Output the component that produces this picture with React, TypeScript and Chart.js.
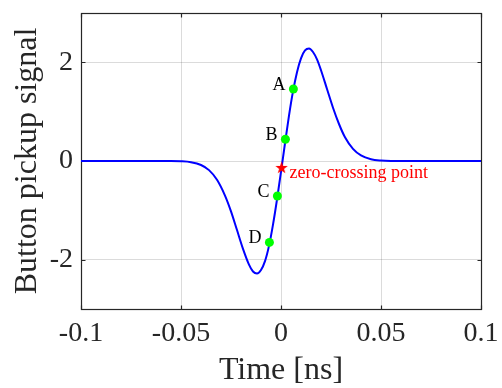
import React, { useEffect, useRef } from 'react';
import { Chart, registerables } from 'chart.js';

Chart.register(...registerables);

// ---- data ----
const timeNs = [
  -0.1, -0.08, -0.065, -0.055, -0.05, -0.045, -0.04, -0.036, -0.032, -0.028,
  -0.025, -0.022, -0.019, -0.016, -0.014, -0.012, -0.01, -0.008, -0.006, -0.004,
  -0.002, 0, 0.002, 0.004, 0.006, 0.008, 0.01, 0.012, 0.014, 0.016,
  0.018, 0.02, 0.023, 0.026, 0.029, 0.032, 0.036, 0.04, 0.045, 0.05,
  0.055, 0.065, 0.08, 0.1,
];
const signal = [
  0, 0, 0, -0.001, -0.006, -0.025, -0.081, -0.185, -0.38, -0.7,
  -1.02, -1.4, -1.78, -2.1, -2.24, -2.28, -2.21, -2.03, -1.72, -1.29,
  -0.78, -0.22, 0.36, 0.92, 1.41, 1.8, 2.08, 2.24, 2.28, 2.21,
  2.06, 1.84, 1.46, 1.08, 0.75, 0.48, 0.245, 0.112, 0.036, 0.01,
  0.002, 0, 0, 0,
];
const markerLabels = ['A', 'B', 'C', 'D'];
const markerX = [0.0062, 0.0022, -0.0018, -0.0058];
const markerY = [1.46, 0.44, -0.71, -1.65];
const zeroCrossX = [0.0003];
const zeroCrossY = [-0.13];
const zeroCrossText = 'zero-crossing point';
const xTicks = [-0.1, -0.05, 0, 0.05, 0.1];
const yTicks = [-2, 0, 2];
const xTitle = 'Time [ns]';
const yTitle = 'Button pickup signal';

const SERIF = "'Liberation Serif', 'Times New Roman', serif";
const AXIS_COLOR = '#262626';

function makeStar(size: number, color: string): HTMLCanvasElement {
  const c = document.createElement('canvas');
  c.width = size;
  c.height = size;
  const g = c.getContext('2d')!;
  const cx = size / 2;
  const cy = size / 2;
  const outer = size / 2;
  const inner = outer * 0.4;
  g.beginPath();
  for (let i = 0; i < 10; i++) {
    const r = i % 2 === 0 ? outer : inner;
    const a = -Math.PI / 2 + (i * Math.PI) / 5;
    const px = cx + r * Math.cos(a);
    const py = cy + r * Math.sin(a) + 0.6;
    if (i === 0) g.moveTo(px, py);
    else g.lineTo(px, py);
  }
  g.closePath();
  g.fillStyle = color;
  g.fill();
  return c;
}

export default function App() {
  const ref = useRef<HTMLCanvasElement>(null);

  useEffect(() => {
    document.body.style.margin = '0';
    const canvas = ref.current;
    if (!canvas) return;
    const star = makeStar(13, '#ff0000');

    const boxPlugin = {
      id: 'matlabBox',
      beforeDatasetsDraw(chart: any) {
        const { ctx, chartArea } = chart;
        const { left, right, top, bottom } = chartArea;
        const xs = chart.scales.x;
        const ys = chart.scales.y;
        ctx.save();
        ctx.strokeStyle = AXIS_COLOR;
        ctx.lineWidth = 1.2;
        const L = Math.round(left) + 0.5;
        const R = Math.round(right) + 0.5;
        const T = Math.round(top) + 0.5;
        const B = Math.round(bottom) + 0.5;
        ctx.strokeRect(L, T, R - L, B - T);
        ctx.beginPath();
        const tl = 4;
        xTicks.forEach((v) => {
          const p = Math.round(xs.getPixelForValue(v)) + 0.5;
          ctx.moveTo(p, B);
          ctx.lineTo(p, B - tl);
          ctx.moveTo(p, T);
          ctx.lineTo(p, T + tl);
        });
        yTicks.forEach((v) => {
          const p = Math.round(ys.getPixelForValue(v)) + 0.5;
          ctx.moveTo(L, p);
          ctx.lineTo(L + tl, p);
          ctx.moveTo(R, p);
          ctx.lineTo(R - tl, p);
        });
        ctx.stroke();
        ctx.restore();
      },
      afterDatasetsDraw(chart: any) {
        const { ctx } = chart;
        const xs = chart.scales.x;
        const ys = chart.scales.y;
        ctx.save();
        ctx.font = `18px ${SERIF}`;
        ctx.fillStyle = '#000000';
        ctx.textAlign = 'right';
        ctx.textBaseline = 'middle';
        markerLabels.forEach((lab, i) => {
          const px = xs.getPixelForValue(markerX[i]);
          const py = ys.getPixelForValue(markerY[i]);
          ctx.fillText(lab, px - 8, py - 4);
        });
        ctx.fillStyle = '#ff0000';
        ctx.textAlign = 'left';
        ctx.textBaseline = 'alphabetic';
        const zx = xs.getPixelForValue(zeroCrossX[0]);
        const zy = ys.getPixelForValue(zeroCrossY[0]);
        ctx.fillText(zeroCrossText, zx + 8, zy + 11);
        ctx.restore();
      },
    };

    const chart = new Chart(canvas, {
      type: 'scatter',
      data: {
        datasets: [
          {
            data: timeNs.map((x, i) => ({ x, y: signal[i] })),
            showLine: true,
            borderColor: '#0000ff',
            borderWidth: 2,
            pointRadius: 0,
            cubicInterpolationMode: 'monotone',
            order: 3,
          } as any,
          {
            data: markerX.map((x, i) => ({ x, y: markerY[i] })),
            pointRadius: 4.5,
            pointStyle: 'circle',
            backgroundColor: '#00ff00',
            borderWidth: 0,
            order: 2,
          },
          {
            data: zeroCrossX.map((x, i) => ({ x, y: zeroCrossY[i] })),
            pointStyle: star as any,
            pointRadius: 6,
            order: 1,
          },
        ],
      },
      options: {
        animation: false,
        responsive: false,
        layout: { padding: { top: 13, right: 21, left: 0, bottom: 0 } },
        plugins: {
          legend: { display: false },
          tooltip: { enabled: false },
        },
        scales: {
          x: {
            type: 'linear',
            min: -0.1,
            max: 0.1,
            afterBuildTicks: (s: any) => {
              s.ticks = xTicks.map((v) => ({ value: v }));
            },
            afterFit: (s: any) => {
              s.height = 79;
              s.paddingLeft = 0;
              s.paddingRight = 0;
              s.paddingTop = 0;
              s.paddingBottom = 0;
            },
            ticks: {
              font: { family: SERIF, size: 28, lineHeight: 1.2 },
              color: AXIS_COLOR,
              padding: 8,
              maxRotation: 0,
              autoSkip: false,
              callback: (v: any) => String(v),
            },
            grid: { color: 'rgba(0,0,0,0.14)', lineWidth: 1, drawTicks: false },
            border: { display: false },
            title: {
              display: true,
              text: xTitle,
              font: { family: SERIF, size: 32, lineHeight: 1.1 },
              color: AXIS_COLOR,
              padding: { top: 0, bottom: 0 },
            },
          },
          y: {
            type: 'linear',
            min: -3,
            max: 3,
            afterBuildTicks: (s: any) => {
              s.ticks = yTicks.map((v) => ({ value: v }));
            },
            afterFit: (s: any) => {
              s.width = 81;
              s.paddingLeft = 0;
              s.paddingRight = 0;
              s.paddingTop = 0;
              s.paddingBottom = 0;
            },
            ticks: {
              font: { family: SERIF, size: 28, lineHeight: 1.2 },
              color: AXIS_COLOR,
              padding: 8,
              autoSkip: false,
              callback: (v: any) => String(v),
            },
            grid: { color: 'rgba(0,0,0,0.14)', lineWidth: 1, drawTicks: false },
            border: { display: false },
            title: {
              display: true,
              text: yTitle,
              font: { family: SERIF, size: 32, lineHeight: 1.2 },
              color: AXIS_COLOR,
              padding: { top: 8, bottom: 0 },
            },
          },
        },
      },
      plugins: [boxPlugin],
    });

    return () => chart.destroy();
  }, []);

  return <canvas ref={ref} width={502} height={388} style={{ display: 'block' }} />;
}
